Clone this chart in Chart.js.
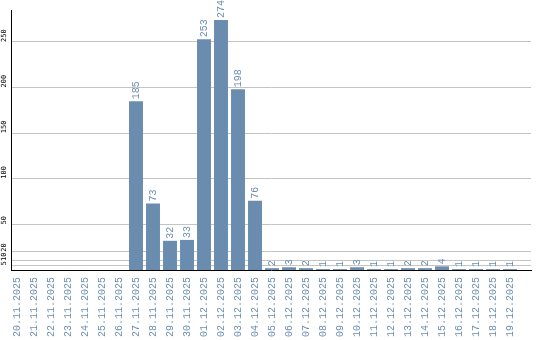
<!DOCTYPE html>
<html>
<head>
<meta charset="utf-8">
<script src="https://cdn.jsdelivr.net/npm/chart.js@4/dist/chart.umd.min.js"></script>
<style>
  body { margin: 0; background: #fff; }
  canvas { display: block; }
</style>
</head>
<body>
<canvas id="barChart" width="540" height="340"></canvas>
<script>
// dates on the x axis
const days = ['20.11.2025', '21.11.2025', '22.11.2025', '23.11.2025', '24.11.2025',
  '25.11.2025', '26.11.2025', '27.11.2025', '28.11.2025', '29.11.2025', '30.11.2025',
  '01.12.2025', '02.12.2025', '03.12.2025', '04.12.2025', '05.12.2025', '06.12.2025',
  '07.12.2025', '08.12.2025', '09.12.2025', '10.12.2025', '11.12.2025', '12.12.2025',
  '13.12.2025', '14.12.2025', '15.12.2025', '16.12.2025', '17.12.2025', '18.12.2025',
  '19.12.2025'];

// count per day
const counts = [0, 0, 0, 0, 0, 0, 0, 185, 73, 32, 33, 253, 274, 198, 76, 2, 3, 2, 1, 1,
  3, 1, 1, 2, 2, 4, 1, 1, 1, 1];

// y gridlines / tick labels
const yTicks = [5, 10, 20, 50, 100, 150, 200, 250];

const barColor = '#6a8caf';
const textColor = '#6d8fb2';

// tick labels + value labels are all rotated, so draw them here
const rotatedText = {
  id: 'rotatedText',
  afterDraw(chart) {
    const ctx = chart.ctx;
    const xs = chart.scales.x;
    const ys = chart.scales.y;
    ctx.save();

    // y labels, reading upwards from the gridline
    ctx.font = '7px "DejaVu Sans Mono"';
    ctx.fillStyle = '#000';
    ctx.textAlign = 'left';
    ctx.textBaseline = 'middle';
    yTicks.forEach(v => {
      ctx.save();
      ctx.translate(4, ys.getPixelForValue(v));
      ctx.rotate(-Math.PI / 2);
      ctx.fillText(String(v), 0, 0);
      ctx.restore();
    });

    // x labels
    ctx.font = '10px "Liberation Mono"';
    ctx.fillStyle = textColor;
    ctx.textAlign = 'right';
    days.forEach((d, i) => {
      ctx.save();
      ctx.translate(xs.getPixelForValue(i), ys.bottom + 7);
      ctx.rotate(-Math.PI / 2);
      ctx.fillText(d, 0, 0);
      ctx.restore();
    });

    // value on top of each bar
    ctx.textAlign = 'left';
    const bars = chart.getDatasetMeta(0).data;
    bars.forEach((bar, i) => {
      if (!counts[i]) return;
      ctx.save();
      ctx.translate(bar.x, bar.y - 2);
      ctx.rotate(-Math.PI / 2);
      ctx.fillText(String(counts[i]), 0, 0);
      ctx.restore();
    });

    ctx.restore();
  }
};

const barChart = new Chart(document.getElementById('barChart'), {
  type: 'bar',
  data: {
    datasets: [{
      data: counts.map((c, i) => ({ x: i, y: c })),
      backgroundColor: barColor,
      borderWidth: 0,
      categoryPercentage: 1,
      barPercentage: 0.82
    }]
  },
  options: {
    responsive: false,
    animation: false,
    layout: { padding: { left: 11, right: 9, top: 10, bottom: 70 } },
    plugins: {
      legend: { display: false },
      tooltip: { enabled: false }
    },
    scales: {
      x: {
        type: 'linear',
        offset: false,
        min: -0.353,
        max: 30.235,
        grid: { display: false, drawTicks: false, offset: false },
        ticks: { display: false },
        border: { color: '#000', width: 1 }
      },
      y: {
        min: 0,
        max: 285,
        afterBuildTicks: axis => { axis.ticks = yTicks.map(v => ({ value: v })); },
        grid: { color: '#c4c4c4', drawTicks: false },
        ticks: { display: false },
        border: { color: '#000', width: 1 }
      }
    }
  },
  plugins: [rotatedText]
});
</script>
</body>
</html>
